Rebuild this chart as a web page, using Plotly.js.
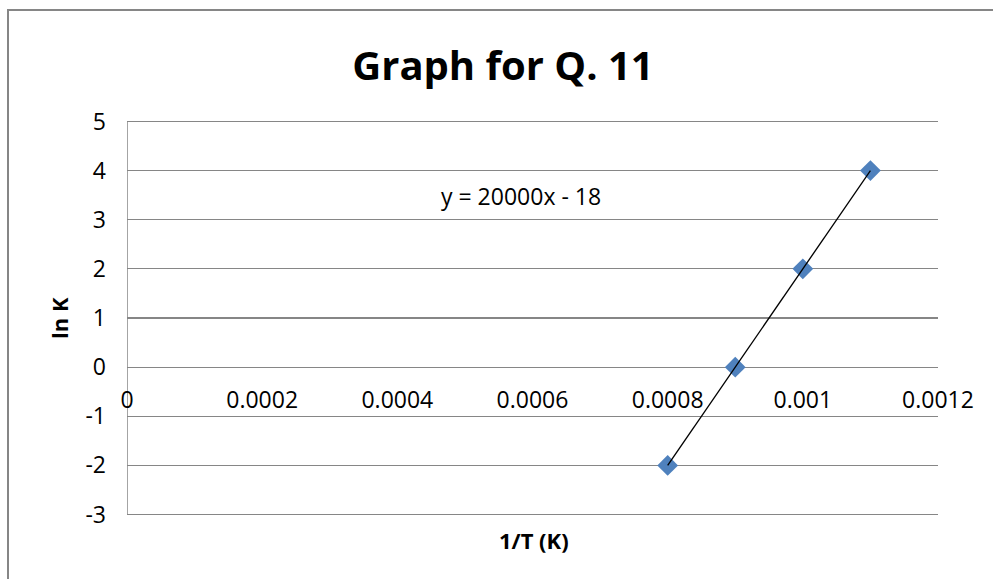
<!DOCTYPE html>
<html>
<head>
<meta charset="utf-8">
<script src="https://cdn.plot.ly/plotly-3.0.1.min.js"></script>
<style>html,body{margin:0;padding:0;background:#fff;}#chart{width:993px;height:579px;}</style>
</head>
<body>
<div id="chart"></div>
<script>
// Data
const invT = [0.0008, 0.0009, 0.001, 0.0011];
const lnK = [-2, 0, 2, 4];
const xTickVals = [0, 0.0002, 0.0004, 0.0006, 0.0008, 0.001, 0.0012];
const xTickText = ["0", "0.0002", "0.0004", "0.0006", "0.0008", "0.001", "0.0012"];
const yTickVals = [-3, -2, -1, 0, 1, 2, 3, 4, 5];
const yTickText = ["-3", "-2", "-1", "0", "1", "2", "3", "4", "5"];
const yMin = -3, yMax = 5;
const chartTitle = "Graph for Q. 11";
const xTitle = "1/T (K)";
const yTitle = "ln K";

// Linear least-squares trendline from the data
const n = invT.length;
const mx = invT.reduce((a, b) => a + b, 0) / n;
const my = lnK.reduce((a, b) => a + b, 0) / n;
let sxy = 0, sxx = 0;
for (let i = 0; i < n; i++) { sxy += (invT[i] - mx) * (lnK[i] - my); sxx += (invT[i] - mx) ** 2; }
const slope = sxy / sxx;
const intercept = my - slope * mx;
const xMin = Math.min(...invT), xMax = Math.max(...invT);
const trendX = [xMin, xMax];
const trendY = trendX.map(x => slope * x + intercept);
const sl = Math.round(slope), ic = Math.round(intercept);
const eqText = "y = " + sl + "x " + (ic < 0 ? "- " + Math.abs(ic) : "+ " + ic);

const grid = "#868686";
const font = "Open Sans, Lato, sans-serif";

const traces = [
  {
    x: invT, y: lnK, type: "scatter", mode: "markers",
    marker: { symbol: "diamond", size: 16, color: "#4F81BD", line: { width: 0 } },
    hoverinfo: "x+y", showlegend: false
  },
  {
    x: trendX, y: trendY, type: "scatter", mode: "lines",
    line: { color: "#000000", width: 1.3 },
    hoverinfo: "skip", showlegend: false
  }
];

const pad = 0.03; // keeps the end gridlines inside the plot area
const layout = {
  width: 993, height: 579,
  margin: { l: 127, r: 55, t: 120, b: 63, pad: 0 },
  paper_bgcolor: "#ffffff", plot_bgcolor: "#ffffff",
  font: { family: font, color: "#000000" },
  title: {
    text: "<b>" + chartTitle + "</b>",
    font: { family: font, size: 40, color: "#000000" },
    xref: "container", yref: "container",
    x: 503 / 993, xanchor: "center",
    y: 1 - 66 / 579, yanchor: "middle"
  },
  xaxis: {
    range: [0, 0.0012],
    anchor: "free", position: (0 - (yMin - pad)) / ((yMax + pad) - (yMin - pad)),
    tickmode: "array", tickvals: xTickVals, ticktext: xTickText,
    showgrid: false, zeroline: false, showline: false,
    ticks: "", ticklabelstandoff: 17,
    tickfont: { family: font, size: 23, color: "#000000" },
    fixedrange: true
  },
  yaxis: {
    range: [yMin - pad, yMax + pad],
    tickmode: "array", tickvals: yTickVals, ticktext: yTickText,
    showgrid: true, gridcolor: grid, gridwidth: 1.2,
    zeroline: false, showline: false,
    ticks: "", ticklabelstandoff: 20,
    tickfont: { family: font, size: 23, color: "#000000" },
    fixedrange: true
  },
  annotations: [
    {
      text: "<b>" + xTitle + "</b>", xref: "paper", yref: "paper",
      x: 0.502, y: -0.061, xanchor: "center", yanchor: "middle",
      showarrow: false, font: { family: font, size: 22, color: "#000000" }
    },
    {
      text: "<b>" + yTitle + "</b>", xref: "paper", yref: "paper",
      x: -0.084, y: 0.5, xanchor: "center", yanchor: "middle", textangle: -90,
      showarrow: false, font: { family: font, size: 22, color: "#000000" }
    },
    {
      text: eqText, xref: "paper", yref: "paper",
      x: 0.486, y: 0.807, xanchor: "center", yanchor: "middle",
      showarrow: false, font: { family: font, size: 23, color: "#000000" }
    }
  ],
  shapes: [
    {
      type: "rect", xref: "paper", yref: "paper", layer: "below",
      x0: (8 - 127) / 811, x1: 1.2, y0: -0.3, y1: (516 - 10) / 396,
      line: { color: grid, width: 2 }, fillcolor: "rgba(0,0,0,0)"
    },
    {
      type: "line", xref: "x", yref: "y", layer: "below",
      x0: 0, x1: 0, y0: yMin, y1: yMax,
      line: { color: grid, width: 1.5 }
    }
  ]
};

Plotly.newPlot("chart", traces, layout, { displayModeBar: false, staticPlot: true });
</script>
</body>
</html>
